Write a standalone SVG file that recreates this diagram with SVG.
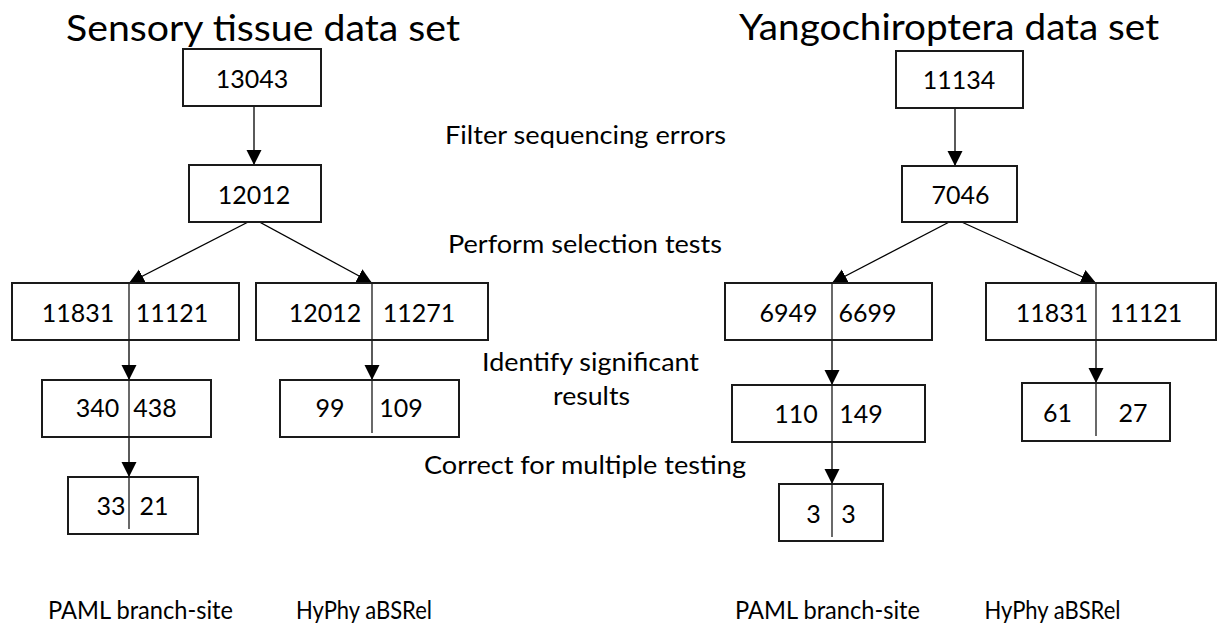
<svg xmlns="http://www.w3.org/2000/svg" width="1218" height="628" viewBox="0 0 1218 628">
  <style>
    .box { fill: #ffffff; stroke: #1a1a1a; stroke-width: 2; }
    .div { stroke: #1a1a1a; stroke-width: 1.3; fill: none; }
    .edge { stroke: #000000; stroke-width: 1.3; fill: none; marker-end: url(#arrow); }
    text { font-family: Lato, "Liberation Sans", sans-serif; fill: #000000; }
    .title { font-size: 37px; text-anchor: middle; }
    .num { font-size: 25px; text-anchor: middle; }
    .step { font-size: 25.5px; text-anchor: middle; }
    .method { font-size: 25px; text-anchor: middle; }
  </style>
  <defs>
    <marker id="arrow" markerUnits="userSpaceOnUse" markerWidth="16" markerHeight="16" refX="15" refY="7.5" orient="auto">
      <path d="M0,0 L15,7.5 L0,15 Z" fill="#000000"/>
    </marker>
  </defs>
  <rect width="1218" height="628" fill="#ffffff"/>

  <!-- dataset titles -->
  <text class="title" x="263" y="41" textLength="394" lengthAdjust="spacingAndGlyphs">Sensory tissue data set</text>
  <text class="title" x="949" y="40" textLength="420" lengthAdjust="spacingAndGlyphs">Yangochiroptera data set</text>

  <!-- pipeline step labels -->
  <g id="steps">
    <text class="step" x="585.5" y="144" textLength="281" lengthAdjust="spacingAndGlyphs">Filter sequencing errors</text>
    <text class="step" x="585" y="253" textLength="274" lengthAdjust="spacingAndGlyphs">Perform selection tests</text>
    <text class="step" x="590.5" y="371" textLength="217" lengthAdjust="spacingAndGlyphs">Identify significant</text>
    <text class="step" x="591.5" y="405" textLength="77" lengthAdjust="spacingAndGlyphs">results</text>
    <text class="step" x="585" y="474" textLength="322" lengthAdjust="spacingAndGlyphs">Correct for multiple testing</text>
  </g>

  <!-- connectors -->
  <g id="connectors">
    <line class="edge" x1="254" y1="106" x2="254" y2="165"/>
    <line class="edge" x1="254" y1="219" x2="129" y2="283"/>
    <line class="edge" x1="254" y1="219" x2="372" y2="283"/>
    <line class="edge" x1="129" y1="340" x2="129" y2="380"/>
    <line class="edge" x1="129" y1="437" x2="129" y2="477"/>
    <line class="edge" x1="372" y1="340" x2="372" y2="380"/>

    <line class="edge" x1="955" y1="108" x2="955" y2="166"/>
    <line class="edge" x1="955" y1="219" x2="832" y2="283"/>
    <line class="edge" x1="955" y1="219" x2="1096" y2="283"/>
    <line class="edge" x1="832" y1="340" x2="832" y2="385"/>
    <line class="edge" x1="832" y1="442" x2="832" y2="484"/>
    <line class="edge" x1="1096" y1="340" x2="1096" y2="383"/>
  </g>

  <!-- Sensory tissue data set -->
  <g id="sensory-13043">
    <rect class="box" x="183" y="49" width="138" height="57"/>
    <text class="num" x="252" y="88">13043</text>
  </g>
  <g id="sensory-12012">
    <rect class="box" x="189" y="165" width="132" height="57"/>
    <text class="num" x="254" y="204">12012</text>
  </g>
  <g id="sensory-paml-tests">
    <rect class="box" x="12" y="283" width="227" height="57"/>
    <line class="div" x1="129" y1="283" x2="129" y2="340"/>
    <text class="num" x="78" y="322">11831</text>
    <text class="num" x="172" y="322">11121</text>
  </g>
  <g id="sensory-hyphy-tests">
    <rect class="box" x="256" y="283" width="232" height="57"/>
    <line class="div" x1="372" y1="283" x2="372" y2="340"/>
    <text class="num" x="325" y="322">12012</text>
    <text class="num" x="419" y="322">11271</text>
  </g>
  <g id="sensory-paml-significant">
    <rect class="box" x="42" y="380" width="169" height="57"/>
    <line class="div" x1="129" y1="380" x2="129" y2="437"/>
    <text class="num" x="97.5" y="417">340</text>
    <text class="num" x="155" y="417">438</text>
  </g>
  <g id="sensory-hyphy-significant">
    <rect class="box" x="280" y="380" width="179" height="57"/>
    <line class="div" x1="372" y1="380" x2="372" y2="433"/>
    <text class="num" x="330" y="417">99</text>
    <text class="num" x="401" y="417">109</text>
  </g>
  <g id="sensory-paml-corrected">
    <rect class="box" x="68" y="477" width="130" height="57"/>
    <line class="div" x1="129" y1="477" x2="129" y2="529"/>
    <text class="num" x="111" y="515">33</text>
    <text class="num" x="154" y="515">21</text>
  </g>

  <!-- Yangochiroptera data set -->
  <g id="yango-11134">
    <rect class="box" x="896" y="51" width="127" height="57"/>
    <text class="num" x="959" y="89">11134</text>
  </g>
  <g id="yango-7046">
    <rect class="box" x="902" y="166" width="115" height="56"/>
    <text class="num" x="960.5" y="204">7046</text>
  </g>
  <g id="yango-paml-tests">
    <rect class="box" x="725" y="283" width="207" height="57"/>
    <line class="div" x1="832" y1="283" x2="832" y2="340"/>
    <text class="num" x="788.5" y="322">6949</text>
    <text class="num" x="867.5" y="322">6699</text>
  </g>
  <g id="yango-hyphy-tests">
    <rect class="box" x="986" y="283" width="230" height="57"/>
    <line class="div" x1="1096" y1="283" x2="1096" y2="340"/>
    <text class="num" x="1052" y="322">11831</text>
    <text class="num" x="1146" y="322">11121</text>
  </g>
  <g id="yango-paml-significant">
    <rect class="box" x="732" y="385" width="193" height="57"/>
    <line class="div" x1="832" y1="385" x2="832" y2="442"/>
    <text class="num" x="796" y="423">110</text>
    <text class="num" x="861" y="423">149</text>
  </g>
  <g id="yango-hyphy-significant">
    <rect class="box" x="1022" y="383" width="148" height="58"/>
    <line class="div" x1="1096" y1="383" x2="1096" y2="436"/>
    <text class="num" x="1057.5" y="422">61</text>
    <text class="num" x="1133" y="422">27</text>
  </g>
  <g id="yango-paml-corrected">
    <rect class="box" x="779" y="484" width="104" height="57"/>
    <line class="div" x1="832" y1="484" x2="832" y2="537"/>
    <text class="num" x="813.5" y="523">3</text>
    <text class="num" x="848.5" y="523">3</text>
  </g>

  <!-- method labels -->
  <g id="methods">
    <text class="method" x="140.5" y="619" textLength="185" lengthAdjust="spacingAndGlyphs">PAML branch-site</text>
    <text class="method" x="364" y="619" textLength="136" lengthAdjust="spacingAndGlyphs">HyPhy aBSRel</text>
    <text class="method" x="827.5" y="619" textLength="185" lengthAdjust="spacingAndGlyphs">PAML branch-site</text>
    <text class="method" x="1052.5" y="619" textLength="136" lengthAdjust="spacingAndGlyphs">HyPhy aBSRel</text>
  </g>
</svg>
